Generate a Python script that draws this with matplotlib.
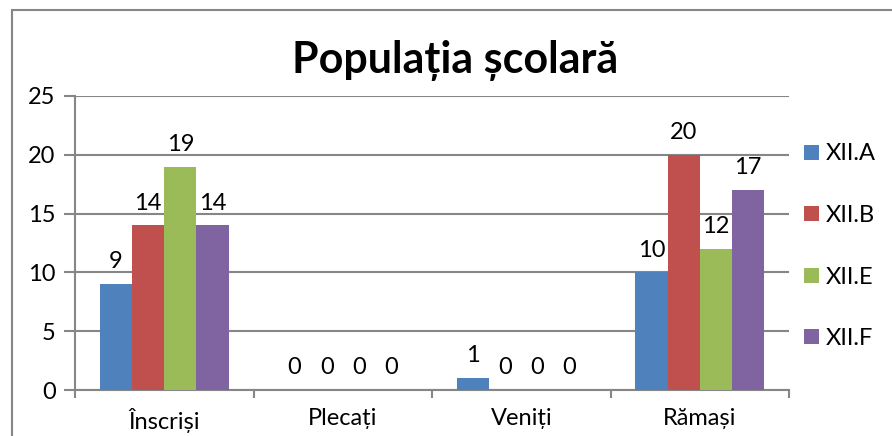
import matplotlib.pyplot as plt
import numpy as np
from matplotlib.patches import Rectangle

categories = ["Înscriși", "Plecați", "Veniți", "Rămași"]
series = ["XII.A", "XII.B", "XII.E", "XII.F"]
values_a = [9, 0, 1, 10]
values_b = [14, 0, 0, 20]
values_e = [19, 0, 0, 12]
values_f = [14, 0, 0, 17]
colors = ["#4F81BD", "#C0504D", "#9BBB59", "#8064A2"]

plt.rcParams['font.family'] = ['Lato', 'DejaVu Sans']

fig = plt.figure(figsize=(8.92, 4.36), dpi=100)
ax = fig.add_axes([75 / 892, 1 - 390 / 436, (789 - 75) / 892, (390 - 96) / 436])

# chart border
fig.patches.append(Rectangle((12 / 892, -0.1), 1.2, 1 - 10 / 436 + 0.1, transform=fig.transFigure,
                             fill=False, edgecolor="#868686", linewidth=1.5))

x = np.arange(len(categories))
width = 0.18
all_vals = [values_a, values_b, values_e, values_f]
for i, (name, vals) in enumerate(zip(series, all_vals)):
    pos = x + (i - 1.5) * width
    bars = ax.bar(pos, vals, width, color=colors[i], label=name, zorder=3)
    for p, v in zip(pos, vals):
        ax.text(p, v + 1.0, str(v), ha="center", va="bottom", fontsize=17, color="black")

ax.set_xlim(-0.5, len(categories) - 0.5)
ax.set_ylim(0, 25)
ax.set_yticks([0, 5, 10, 15, 20, 25])
ax.yaxis.grid(True, color="#868686", linewidth=1.5, zorder=0)
ax.set_axisbelow(True)

ax.set_xticks(x)
ax.set_xticklabels(categories, fontsize=17)
ax.set_xticks(np.arange(-0.5, len(categories)), minor=True)
ax.tick_params(axis="x", which="major", length=0, pad=13)
ax.tick_params(axis="x", which="minor", length=6, width=1.5, color="#868686")
ax.tick_params(axis="y", length=8, width=1.5, color="#868686", labelsize=17, pad=6)

for s in ["top", "right"]:
    ax.spines[s].set_visible(False)
for s in ["left", "bottom"]:
    ax.spines[s].set_color("#868686")
    ax.spines[s].set_linewidth(1.5)

fig.text(455 / 892, 1 - 60 / 436, "Populația școlară", ha="center", va="center",
         fontsize=31, fontweight="bold")

leg = ax.legend(loc="upper left", bbox_to_anchor=(795 / 892, 1 - 134 / 436), bbox_transform=fig.transFigure,
                frameon=False, fontsize=17, handlelength=0.6, handleheight=0.6,
                handletextpad=0.3, labelspacing=1.72, borderaxespad=0)

fig.savefig("out.png", dpi=100)
